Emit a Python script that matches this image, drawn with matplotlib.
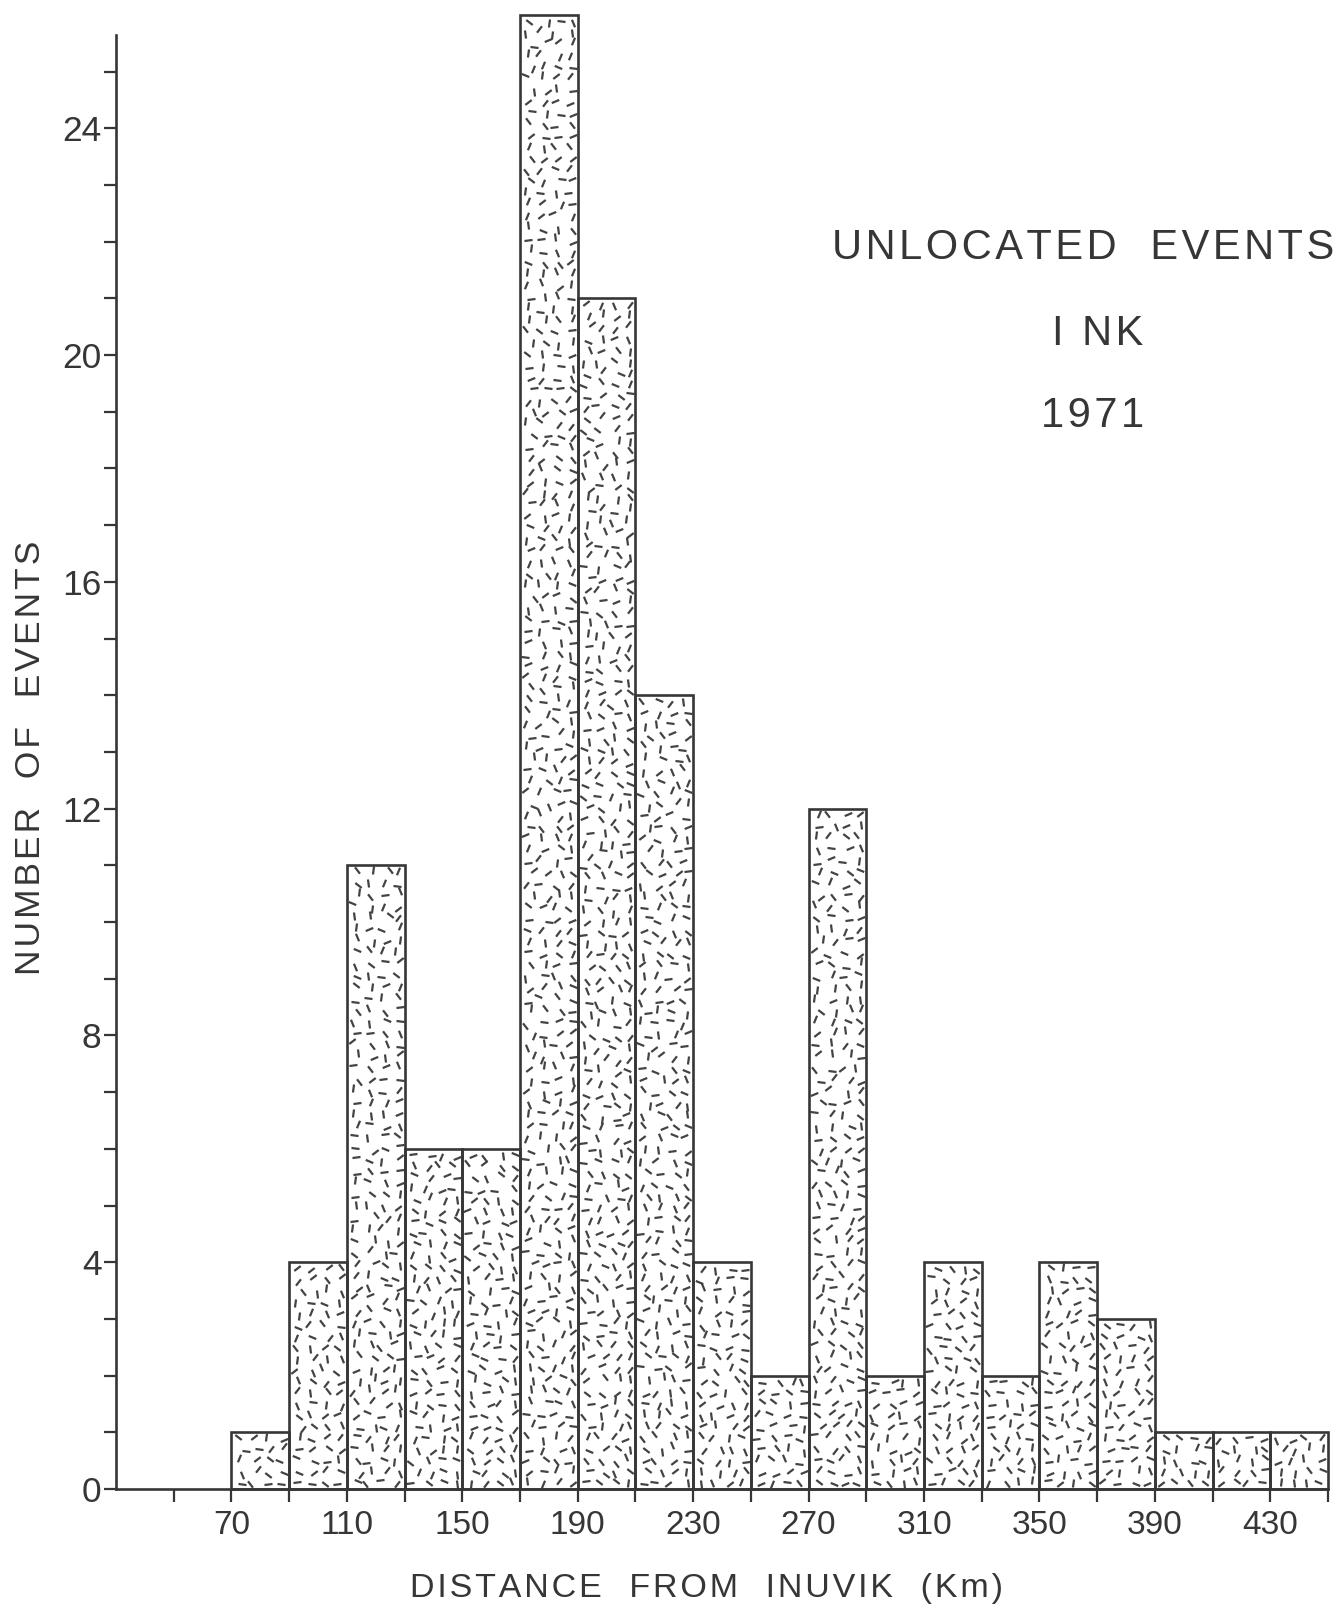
import numpy as np
import matplotlib
matplotlib.use("Agg")
import matplotlib.pyplot as plt
from matplotlib.markers import MarkerStyle
from matplotlib.transforms import Affine2D

# ---- data ----
bin_left = [70, 90, 110, 130, 150, 170, 190, 210, 230, 250,
            270, 290, 310, 330, 350, 370, 390, 410, 430]
counts = [1, 4, 11, 6, 6, 26, 21, 14, 4, 2, 12, 2, 4, 2, 4, 3, 1, 1, 1]
bin_width = 20
x_tick_positions = [50, 70, 90, 110, 130, 150, 170, 190, 210, 230, 250,
                    270, 290, 310, 330, 350, 370, 390, 410, 430, 450]
x_tick_labels = ["70", "110", "150", "190", "230", "270", "310", "350", "390", "430"]
y_tick_positions = list(range(0, 26))
y_tick_labels = ["0", "4", "8", "12", "16", "20", "24"]
title_lines = ["UNLOCATED  EVENTS", "I NK", "1971"]
x_label = "DISTANCE  FROM  INUVIK  (Km)"
y_label = "NUMBER  OF  EVENTS"

# ---- style ----
INK = "#363636"
plt.rcParams["font.family"] = ["Liberation Sans", "DejaVu Sans"]
HS = "\u200a"


def spaced(s):
    return HS.join(list(s))


W, H = 1340, 1612
fig = plt.figure(figsize=(W / 100, H / 100), dpi=100, facecolor="white")
ax_left, ax_right = 116 / W, 1328 / W
ax_bottom = (H - 1489) / H
ymax = 26.2
px_per_y = 56.7
ax_h = ymax * px_per_y / H
ax = fig.add_axes([ax_left, ax_bottom, ax_right - ax_left, ax_h])
xmin, xmax = 30, 450
ax.set_xlim(xmin, xmax)
ax.set_ylim(0, ymax)
px_per_x = (ax_right - ax_left) * W / (xmax - xmin)

# bars (outlines)
ax.bar(bin_left, counts, width=bin_width, align="edge", facecolor="none",
       edgecolor=INK, linewidth=1.9, zorder=3, clip_on=False)


# stipple texture of short dashes inside each bar
def frac(v):
    return v - np.floor(v)


tx, ty, ta = [], [], []
n = 0
for left, c in zip(bin_left, counts):
    w_px = bin_width * px_per_x
    h_px = c * px_per_y
    ncol = 4
    nrow = max(1, int(round(h_px / 11.5)))
    for r in range(nrow):
        for k in range(ncol):
            n += 1
            jx = frac(np.sin(n * 12.9898) * 43758.5453) - 0.5
            jy = frac(np.sin(n * 78.233) * 43758.5453) - 0.5
            ang = frac(np.sin(n * 39.425) * 24634.6345) * 180.0
            xp = (k + 0.5 + 0.25 * (r % 2) + 0.55 * jx) * w_px / ncol
            xp = min(max(xp, 5), w_px - 5)
            yp = (r + 0.5 + 0.6 * jy) * h_px / nrow
            yp = min(max(yp, 5), h_px - 5)
            tx.append(left + xp / px_per_x)
            ty.append(yp / px_per_y)
            ta.append(ang)
tx, ty, ta = np.array(tx), np.array(ty), np.array(ta)
nb = 12
bins = (ta // (180 / nb)).astype(int)
for b in range(nb):
    sel = bins == b
    if not sel.any():
        continue
    m = MarkerStyle("_", transform=Affine2D().rotate_deg(b * 180 / nb + 7.5))
    ax.scatter(tx[sel], ty[sel], marker=m, s=34, linewidths=1.6,
               color="#434343", zorder=2, clip_on=False)

# spines
for s in ["top", "right"]:
    ax.spines[s].set_visible(False)
ax.spines["left"].set_bounds(0, 25.65)
ax.spines["bottom"].set_bounds(xmin, xmax)
for s in ["left", "bottom"]:
    ax.spines[s].set_linewidth(1.9)
    ax.spines[s].set_color(INK)

# ticks
ax.set_xticks(x_tick_positions)
xl = []
for p in x_tick_positions:
    xl.append(str(p) if str(p) in x_tick_labels else "")
ax.set_xticklabels(xl)
ax.set_yticks(y_tick_positions)
yl = []
for p in y_tick_positions:
    yl.append(str(p) if str(p) in y_tick_labels else "")
ax.set_yticklabels(yl)
ax.tick_params(axis="x", direction="out", length=9, width=1.6, color=INK,
               labelcolor=INK, labelsize=24, pad=6)
ax.tick_params(axis="y", direction="out", length=8.5, width=1.6, color=INK,
               labelcolor=INK, labelsize=25.5, pad=2)

# labels
fig.text(707 / W, 1 - 1588 / H, spaced(x_label), ha="center", va="center",
         fontsize=24.5, color=INK)
fig.text(31 / W, 1 - 758 / H, spaced(y_label), ha="center", va="center",
         rotation=90, fontsize=25.5, color=INK)

# title block
title_pos = [(1083, 248), (1098, 334), (1093, 416)]
for t, (px, py) in zip(title_lines, title_pos):
    fig.text(px / W, 1 - py / H, spaced(t), ha="center", va="center",
             fontsize=30, color=INK)

fig.savefig("out.png", dpi=100, facecolor="white")
